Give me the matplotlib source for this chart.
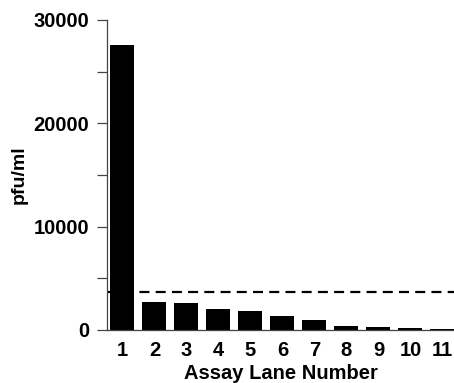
import numpy as np
import matplotlib
matplotlib.use('Agg')
import matplotlib.pyplot as plt

plt.rcParams['font.family'] = ['Liberation Sans', 'DejaVu Sans']
plt.rcParams['font.weight'] = 'bold'

# assay lanes and titres
lanes = [1, 2, 3, 4, 5, 6, 7, 8, 9, 10, 11]
pfu = [27600, 2740, 2580, 2000, 1870, 1350, 970, 420, 290, 160, 100]
threshold = 3650
yticks = [0, 10000, 20000, 30000]

fig = plt.figure(figsize=(4.54, 3.83), dpi=100)
ax = fig.add_axes([0.2357, 0.1384, 0.7643, 0.8094])

ax.bar(lanes, pfu, width=0.75, color='black')
ax.axhline(threshold, color='black', lw=1.6, dashes=(4.5, 2.8))

ax.set_xlim(0.516, 11.36)
ax.set_ylim(0, 30000)
ax.set_yticks(yticks)
ax.set_yticks([5000, 15000, 25000], minor=True)
ax.set_xticks(lanes)

for s in ['top', 'right']:
    ax.spines[s].set_visible(False)
for s in ['left', 'bottom']:
    ax.spines[s].set_color('#444444')
    ax.spines[s].set_linewidth(0.9)

ax.tick_params(axis='y', which='both', length=7, width=0.9, color='#444444',
               labelsize=14.5, pad=6)
ax.tick_params(axis='x', length=0, labelsize=14.5, pad=8)

ax.set_ylabel('pfu/ml', fontsize=14, fontweight='bold', labelpad=4)
ax.set_xlabel('Assay Lane Number', fontsize=14.5, fontweight='bold', labelpad=3)

plt.savefig('out.png', dpi=100)
